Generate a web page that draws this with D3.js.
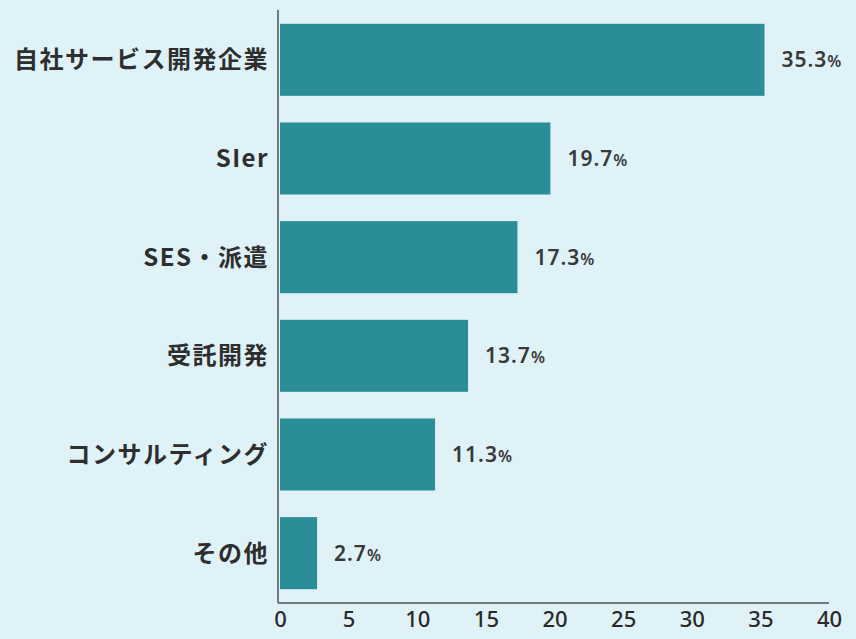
<!DOCTYPE html>
<html>
<head>
<meta charset="utf-8">
<script src="https://cdn.jsdelivr.net/npm/d3@7"></script>
<style>
  html, body { margin: 0; padding: 0; background: #dff2f7; }
  svg { display: block; }
  .cat { font-family: "Noto Sans CJK JP", "Noto Sans", sans-serif; font-weight: 700; font-size: 24px; fill: #2e2e2e; letter-spacing: 1.5px; }
  .val { font-family: "Noto Sans", "Open Sans", sans-serif; font-weight: 600; font-size: 21px; fill: #383838; letter-spacing: 1px; }
  .tick text { font-family: "Noto Sans", "Open Sans", sans-serif; font-weight: 500; font-size: 22px; fill: #2a2a2a; }
</style>
</head>
<body>
<svg id="chart" width="856" height="639"></svg>
<script>
// data
const categories = ["自社サービス開発企業", "SIer", "SES・派遣", "受託開発", "コンサルティング", "その他"];
const values = [35.3, 19.7, 17.3, 13.7, 11.3, 2.7];
const tickValues = [0, 5, 10, 15, 20, 25, 30, 35, 40];

const svg = d3.select("#chart");
const width = 856, height = 639;
const plotLeft = 280, plotRight = 829, plotTop = 10, plotBottom = 603;

svg.append("rect").attr("width", width).attr("height", height).attr("fill", "#dff2f7");

let x = d3.scaleLinear().domain([0, 40]).range([plotLeft, plotRight]);
let y = d3.scaleBand()
  .domain(categories)
  .range([plotTop, plotBottom])
  .paddingInner(0.27)
  .paddingOuter(0.14);

// bars
svg.selectAll("rect.bar")
  .data(values)
  .enter()
  .append("rect")
  .attr("class", "bar")
  .attr("x", x(0))
  .attr("y", (d, i) => y(categories[i]))
  .attr("width", d => x(d) - x(0))
  .attr("height", y.bandwidth())
  .attr("fill", "#2a8d97");

// value labels, "%" a bit smaller
let vals = svg.selectAll("text.val")
  .data(values)
  .enter()
  .append("text")
  .attr("class", "val")
  .attr("x", d => x(d) + 17)
  .attr("y", (d, i) => y(categories[i]) + y.bandwidth() / 2)
  .attr("dy", "0.35em");
vals.append("tspan").text(d => d.toFixed(1));
vals.append("tspan").attr("font-size", "16px").text("%");

// category labels
svg.selectAll("text.cat")
  .data(categories)
  .enter()
  .append("text")
  .attr("class", "cat")
  .attr("x", 269)
  .attr("y", d => y(d) + y.bandwidth() / 2)
  .attr("dy", "0.36em")
  .attr("text-anchor", "end")
  .text(d => d);

// x axis
let xAxis = svg.append("g")
  .attr("transform", "translate(0," + plotBottom + ")")
  .call(d3.axisBottom(x).tickValues(tickValues).tickSize(0).tickPadding(8).tickFormat(d3.format("d")));
xAxis.select(".domain").attr("stroke", "#6f7a7c").attr("stroke-width", 2).attr("d", "M" + (plotLeft - 2) + ",0H" + plotRight);

// y axis line
svg.append("line")
  .attr("x1", plotLeft - 2).attr("x2", plotLeft - 2)
  .attr("y1", plotTop).attr("y2", plotBottom)
  .attr("stroke", "#6f7a7c")
  .attr("stroke-width", 2);
</script>
</body>
</html>
